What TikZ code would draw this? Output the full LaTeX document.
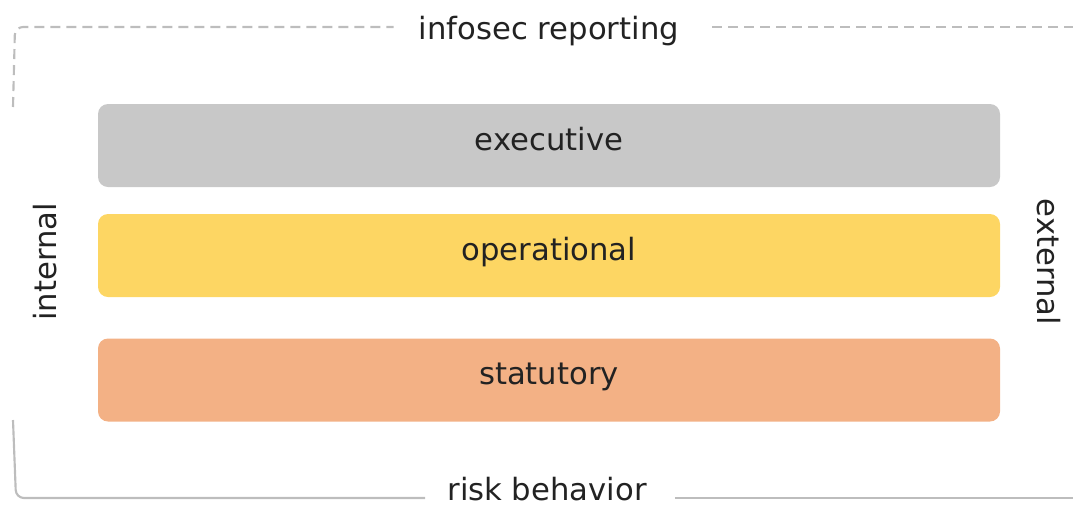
\documentclass[tikz,border=0pt]{standalone}
\usepackage{fontspec}
\setmainfont{DejaVu Sans}
\definecolor{exec}{HTML}{C8C8C8}
\definecolor{oper}{HTML}{FDD663}
\definecolor{stat}{HTML}{F3B185}
\definecolor{frame}{HTML}{BDBDBD}
\definecolor{txt}{HTML}{222222}
\begin{document}
\begin{tikzpicture}[x=0.75pt,y=-0.75pt,
  layer/.style={rounded corners=7.5pt,draw=none,minimum width=902*0.75pt,minimum height=83*0.75pt,inner sep=0pt,text height=17pt,text depth=10pt,font=\fontsize{23}{27}\selectfont,text=txt},
  lbl/.style={font=\fontsize{23}{27}\selectfont,text=txt,inner sep=0pt},
  framedash/.style={draw=frame,line width=1.6pt,dash pattern=on 7.5pt off 4.5pt},
  framesolid/.style={draw=frame,line width=1.6pt}]
\useasboundingbox (0,0) rectangle (1073,508);
\node[layer,fill=exec] (ex) at (549,145.5) {executive};
\node[layer,fill=oper] (op) at (549,255.5) {operational};
\node[layer,fill=stat] (st) at (549,380) {statutory};
\node[lbl] (top) at (549,31) {infosec reporting};
\node[lbl] (bot) at (547,489) {risk behavior};
\node[lbl,rotate=90] (int) at (45,262) {internal};
\node[lbl,rotate=-90] (ext) at (1049,262) {external};
\coordinate (tl) at (13,107);
\coordinate (tr) at (1073,27);
\coordinate (bl) at (13,420);
\coordinate (br) at (1073,498);
\draw[framedash,rounded corners=6pt] (tl) -- (15,27) -- ([xshift=-25*0.75pt]top.west |- tr);
\draw[framedash] ([xshift=33*0.75pt]top.east |- tr) -- (tr);
\draw[framesolid,rounded corners=6pt] (bl) -- (16,498) -- ([xshift=-22*0.75pt]bot.west |- br);
\draw[framesolid] ([xshift=28*0.75pt]bot.east |- br) -- (br);
\end{tikzpicture}
\end{document}
